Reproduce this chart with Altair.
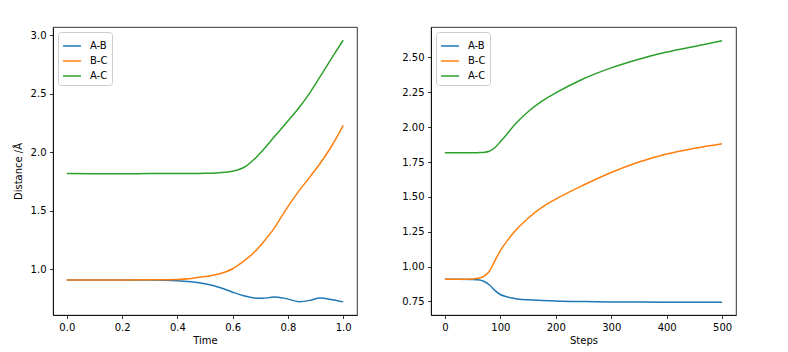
import altair as alt
import pandas as pd

series_names = ["A-B", "B-C", "A-C"]
colors = ["#1f77b4", "#ff7f0e", "#2ca02c"]

# Left panel: distance vs time
time = [0.0, 0.1, 0.2, 0.3, 0.4, 0.45, 0.5, 0.55, 0.6, 0.64, 0.68, 0.71, 0.75, 0.79, 0.84, 0.88, 0.915, 0.96, 1.0]
ab_time = [0.91, 0.91, 0.91, 0.909, 0.903, 0.893, 0.876, 0.847, 0.805, 0.775, 0.756, 0.753, 0.764, 0.752, 0.724, 0.735, 0.755, 0.741, 0.722]
bc_time = [0.91, 0.91, 0.91, 0.911, 0.914, 0.922, 0.938, 0.96, 1.005, 1.07, 1.15, 1.23, 1.35, 1.50, 1.67, 1.79, 1.90, 2.06, 2.23]
ac_time = [1.818, 1.817, 1.817, 1.818, 1.818, 1.819, 1.821, 1.826, 1.838, 1.87, 1.945, 2.02, 2.13, 2.24, 2.38, 2.51, 2.64, 2.81, 2.957]

# Right panel: distance vs steps
steps = [0, 25, 50, 60, 70, 80, 90, 100, 110, 125, 150, 175, 200, 250, 300, 350, 400, 450, 500]
ab_steps = [0.91, 0.91, 0.908, 0.905, 0.895, 0.87, 0.83, 0.80, 0.785, 0.772, 0.762, 0.757, 0.753, 0.749, 0.747, 0.746, 0.745, 0.745, 0.745]
bc_steps = [0.91, 0.91, 0.912, 0.916, 0.93, 0.965, 1.04, 1.115, 1.172, 1.248, 1.347, 1.424, 1.484, 1.585, 1.675, 1.750, 1.808, 1.848, 1.881]
ac_steps = [1.816, 1.816, 1.816, 1.817, 1.819, 1.827, 1.852, 1.895, 1.94, 2.013, 2.11, 2.186, 2.245, 2.347, 2.425, 2.487, 2.538, 2.578, 2.619]

time_ticks = [0.0, 0.2, 0.4, 0.6, 0.8, 1.0]
dist_ticks_left = [1.0, 1.5, 2.0, 2.5, 3.0]
step_ticks = [0, 100, 200, 300, 400, 500]
dist_ticks_right = [0.75, 1.0, 1.25, 1.5, 1.75, 2.0, 2.25, 2.5]


def to_long(xname, xs, ys_list):
    rows = []
    for name, ys in zip(series_names, ys_list):
        for x, y in zip(xs, ys):
            rows.append({xname: x, "Distance": y, "Bond": name})
    return pd.DataFrame(rows)


df_time = to_long("Time", time, [ab_time, bc_time, ac_time])
df_steps = to_long("Steps", steps, [ab_steps, bc_steps, ac_steps])

color_scale = alt.Scale(domain=series_names, range=colors)


def legend():
    return alt.Legend(
        title=None, orient="top-left", offset=5, symbolType="stroke",
        symbolSize=320, symbolStrokeWidth=1.5, labelFontSize=10,
        labelFont="DejaVu Sans", labelColor="black",
        strokeColor="#cccccc", fillColor="white", padding=4,
        cornerRadius=3, rowPadding=0, labelOffset=8,
    )


left = alt.Chart(df_time).mark_line(strokeWidth=1.5, interpolate="monotone").encode(
    x=alt.X("Time:Q", scale=alt.Scale(domain=[-0.05, 1.05], nice=False, zero=False),
            axis=alt.Axis(values=time_ticks, format=".1f", title="Time")),
    y=alt.Y("Distance:Q", scale=alt.Scale(domain=[0.61, 3.07], nice=False, zero=False),
            axis=alt.Axis(values=dist_ticks_left, format=".1f", title="Distance /Å", titlePadding=7)),
    color=alt.Color("Bond:N", scale=color_scale, sort=series_names, legend=legend()),
).properties(width=304, height=288)

right = alt.Chart(df_steps).mark_line(strokeWidth=1.5, interpolate="monotone").encode(
    x=alt.X("Steps:Q", scale=alt.Scale(domain=[-25, 525], nice=False, zero=False),
            axis=alt.Axis(values=step_ticks, format="d", title="Steps")),
    y=alt.Y("Distance:Q", scale=alt.Scale(domain=[0.653, 2.718], nice=False, zero=False),
            axis=alt.Axis(values=dist_ticks_right, format=".2f", title=None)),
    color=alt.Color("Bond:N", scale=color_scale, sort=series_names, legend=legend()),
).properties(width=305, height=288)

chart = alt.hconcat(left, right, spacing=43).resolve_legend(color="independent").resolve_scale(
    x="independent", y="independent"
).properties(
    padding={"left": 12, "top": 26, "right": 5, "bottom": 5},
    background="white",
).configure_view(
    stroke="black", strokeWidth=0.8
).configure_axis(
    grid=False, labelFont="DejaVu Sans", titleFont="DejaVu Sans", labelFontSize=10,
    titleFontSize=10, titleFontWeight="normal", labelColor="black", titleColor="black",
    tickColor="black", domainColor="black", domainWidth=0.8, tickWidth=0.8, tickSize=3.5,
    labelPadding=3.5, titlePadding=3
)

chart.save("out.html", embed_options={"renderer": "svg", "actions": False})
